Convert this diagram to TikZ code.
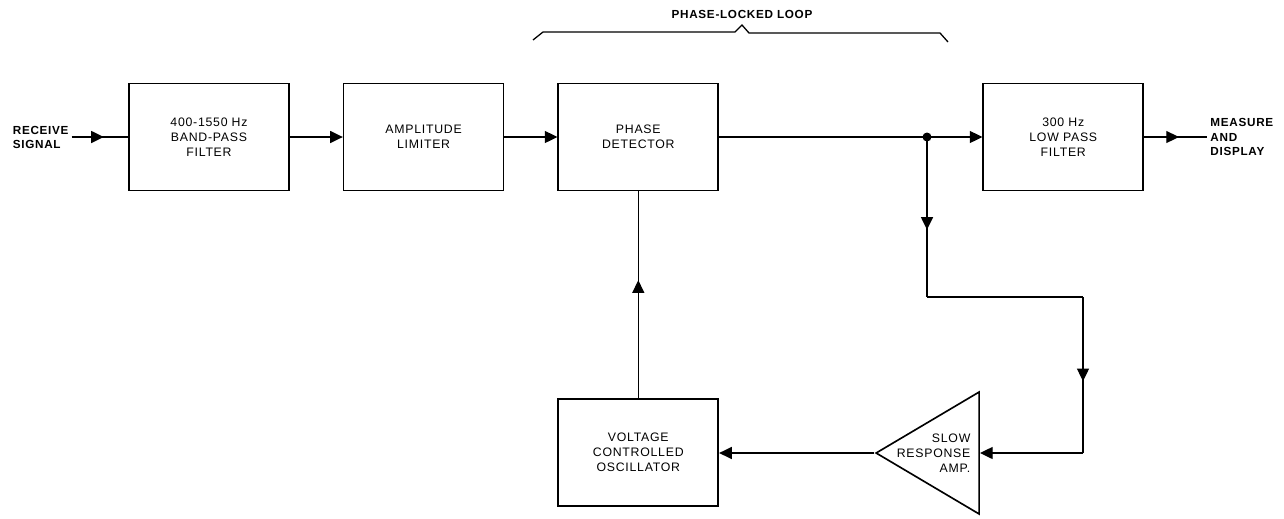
\documentclass[tikz,border=0pt]{standalone}
\usepackage{fontspec}
\setmainfont{Liberation Sans}[LetterSpace=6]
\usepackage{tikz}
\usetikzlibrary{positioning,arrows.meta,calc,shapes.geometric,decorations.markings}
\tikzset{
  midarr/.style={postaction={decorate},decoration={markings,
    mark=at position #1 with {\arrow{Triangle[length=3.8mm,width=3.6mm]}}}}
}

\begin{document}
\begin{tikzpicture}[x=0.03cm,y=-0.03cm,font=\fontsize{10.5}{12.8}\selectfont,line width=1.1pt,node distance=1.59cm]
  \tikzstyle{b}=[draw,line width=1.4pt,minimum height=3.21cm,minimum width=4.8cm,align=center]
  \tikzstyle{lbl}=[font=\fontsize{10}{12}\selectfont\bfseries,align=left,inner sep=2pt]
  \tikzstyle{tip}=[-{Triangle[length=3.8mm,width=3.6mm]}]
  \useasboundingbox (0,0) rectangle (1284,518);
  % main chain
  \node[b] (bpf) at (209,137) {400-1550 Hz\\BAND-PASS\\FILTER};
  \node[b,right=of bpf] (lim) {AMPLITUDE\\LIMITER};
  \node[b,right=of lim] (pd) {PHASE\\DETECTOR};
  \node[b,right=7.9cm of pd] (lpf) {300 Hz\\LOW PASS\\FILTER};
  \node[b,below=6.2cm of pd] (vco) {VOLTAGE\\CONTROLLED\\OSCILLATOR};
  \node[draw,line width=1.4pt,isosceles triangle,shape border rotate=180,isosceles triangle stretches,
        minimum width=3.66cm,minimum height=3.09cm,inner sep=0pt,anchor=apex] (amp) at (874,453) {};
  \node[anchor=east,align=right,inner sep=0pt] (amptxt) at (971,453) {SLOW\\RESPONSE\\AMP.};
  \node[lbl,left=1.7cm of bpf] (recv) {RECEIVE\\SIGNAL};
  \node[lbl,right=1.9cm of lpf] (meas) {MEASURE\\AND\\DISPLAY};
  \node[lbl] (pll) at (742,14) {PHASE-LOCKED LOOP};
  % loop bracket
  \draw (533,40) -- (543,32) -- (735,32) -- (742,25) -- (749,33) -- (940,33) -- (948,42);
  % branch points
  \coordinate (split) at (927,137);
  \coordinate (drop) at (927,297);
  \coordinate (turn) at (1083,297);
  \coordinate (back) at (1083,453);
  \fill (split) circle (4.5);
  \draw[midarr=0.57] (recv.east) -- (bpf.west);
  \draw[tip] (bpf) -- (lim);
  \draw[tip] (lim) -- (pd);
  \draw[tip] (pd) -- (lpf);
  \draw[midarr=0.55] (lpf.east) -- (meas.west);
  \draw[midarr=0.58] (split) -- (drop);
  \draw (drop) -- (turn);
  \draw[midarr=0.54] (turn) -- (back);
  \draw[tip] (back) -- (amp.east);
  \draw[tip] (amp.apex) -- (amp.apex -| vco.east);
  \draw[midarr=0.57] (vco.north) -- (pd.south);
\end{tikzpicture}
\end{document}
